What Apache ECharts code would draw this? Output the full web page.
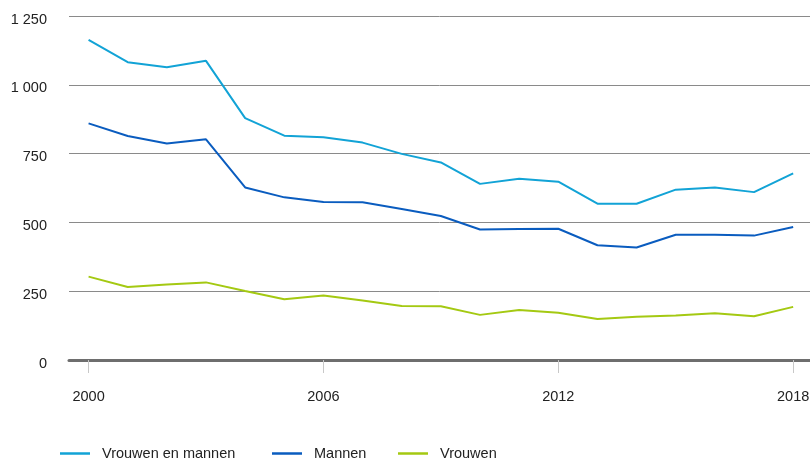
<!DOCTYPE html>
<html>
<head>
<meta charset="utf-8">
<script src="https://cdn.jsdelivr.net/npm/echarts@6/dist/echarts.min.js"></script>
<style>
html,body{margin:0;padding:0;background:#fff;}
#chart{width:810px;height:463px;}
</style>
</head>
<body>
<div id="chart"></div>
<script>
var years = [2000,2001,2002,2003,2004,2005,2006,2007,2008,2009,2010,2011,2012,2013,2014,2015,2016,2017,2018];
var vrouwenEnMannen = [1163,1082,1064,1087,879,815,809,790,749,718,640,659,648,568,568,619,627,610,678];
var mannen = [860,814,787,802,627,591,574,573,549,523,474,476,477,417,409,455,455,452,483];
var vrouwen = [303,265,274,282,251,221,234,216,196,195,164,182,172,149,157,162,170,159,193];
var seriesNames = ['Vrouwen en mannen','Mannen','Vrouwen'];
var xTickLabels = [2000,2006,2012,2018];

function pairs(vals){ return years.map(function(y,i){ return [y, vals[i]]; }); }
var font = 'Arial, "Liberation Sans", sans-serif';

function legendAt(name, left){
  return {
    left:left, top:441,
    icon:'rect', itemWidth:30, itemHeight:2.5,
    textStyle:{fontFamily:font,fontSize:14.5,color:'#222',padding:[0,0,0,7]},
    data:[name]
  };
}

var chart = echarts.init(document.getElementById('chart'), null, {renderer:'canvas'});
chart.setOption({
  animation:false,
  color:['#12a3d6','#0a5cbf','#a4c912'],
  grid:{left:69,right:0,top:16,bottom:103,containLabel:false,outerBoundsMode:'none'},
  legend:[legendAt(seriesNames[0],55),legendAt(seriesNames[1],267),legendAt(seriesNames[2],393)],
  xAxis:{
    type:'value', min:1999.5, max:2018.43,
    axisLine:{show:true,lineStyle:{color:'#6e6e6e',width:3}},
    axisTick:{show:true,customValues:xTickLabels,length:13,lineStyle:{color:'#c8c8c8',width:1}},
    axisLabel:{show:true,customValues:xTickLabels,margin:29,fontFamily:font,fontSize:14.5,color:'#222',
      formatter:function(v){return String(v);}},
    splitLine:{show:false}
  },
  yAxis:{
    type:'value', min:0, max:1250, interval:250,
    axisLine:{show:false}, axisTick:{show:false},
    axisLabel:{margin:22,fontFamily:font,fontSize:14.5,color:'#222',verticalAlign:'top',lineHeight:7,
      formatter:function(v){return String(v).replace(/\B(?=(\d{3})+(?!\d))/g,' ');}},
    splitLine:{show:true,lineStyle:{color:'#8a8a8a',width:1}}
  },
  series:[
    {name:seriesNames[0],type:'line',data:pairs(vrouwenEnMannen),symbol:'none',lineStyle:{width:2}},
    {name:seriesNames[1],type:'line',data:pairs(mannen),symbol:'none',lineStyle:{width:2}},
    {name:seriesNames[2],type:'line',data:pairs(vrouwen),symbol:'none',lineStyle:{width:2}}
  ]
});
</script>
</body>
</html>
